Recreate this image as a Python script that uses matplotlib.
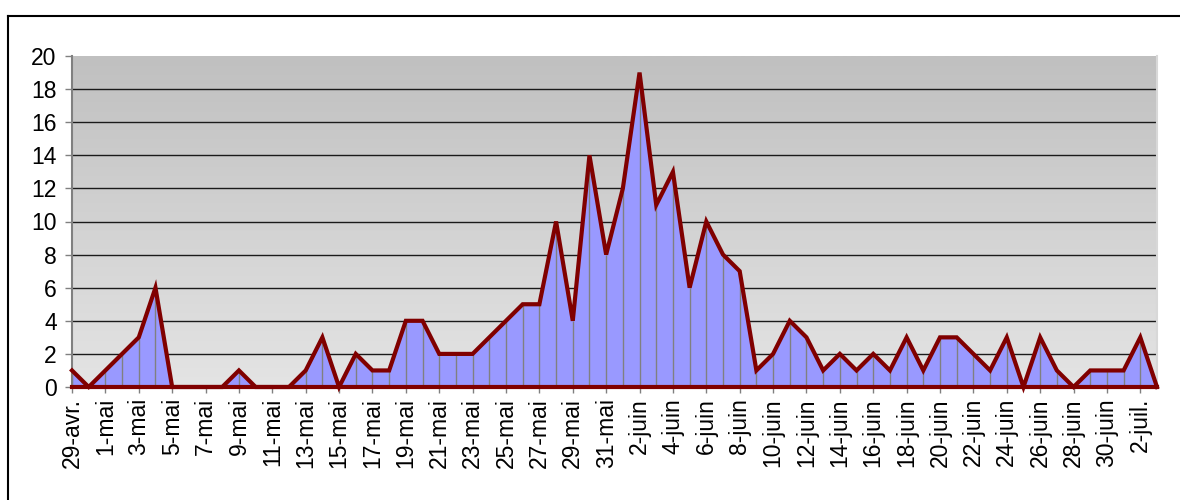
import numpy as np
import matplotlib.pyplot as plt
from matplotlib.colors import LinearSegmentedColormap
from matplotlib.lines import Line2D

plt.rcParams['font.family'] = ['Liberation Sans', 'DejaVu Sans']

# daily counts, 29-avr. -> 3-juil.
cases = [1, 0,
         1, 2, 3, 6, 0, 0, 0, 0, 1, 0, 0, 0, 1, 3, 0, 2, 1, 1, 4, 4,
         2, 2, 2, 3, 4, 5, 5, 10, 4, 14, 8,
         12, 19, 11, 13, 6, 10, 8, 7, 1, 2, 4, 3, 1, 2, 1, 2, 1, 3, 1,
         3, 3, 2, 1, 3, 0, 3, 1, 0, 1, 1,
         1, 3, 0]

tick_labels = ["29-avr.", "1-mai", "3-mai", "5-mai", "7-mai", "9-mai", "11-mai",
               "13-mai", "15-mai", "17-mai", "19-mai", "21-mai", "23-mai", "25-mai",
               "27-mai", "29-mai", "31-mai", "2-juin", "4-juin", "6-juin", "8-juin",
               "10-juin", "12-juin", "14-juin", "16-juin", "18-juin", "20-juin",
               "22-juin", "24-juin", "26-juin", "28-juin", "30-juin", "2-juil."]

x = np.arange(len(cases))
W, H = 1180, 500

fig = plt.figure(figsize=(W / 100, H / 100), dpi=100)
ax = fig.add_axes([72 / W, 113 / H, 1085 / W, 331 / H])

# grey gradient background
bg = LinearSegmentedColormap.from_list('bg', ['#c0c0c0', '#e4e4e4'])
ax.imshow(np.linspace(0, 1, 256).reshape(-1, 1), cmap=bg, aspect='auto',
          extent=[0, len(cases) - 1, 0, 20], zorder=0)
ax.hlines(range(2, 20, 2), 0, len(cases) - 1, color='#1a1a1a', lw=1, zorder=1)

ax.fill_between(x, cases, color='#9999ff', lw=0, zorder=2)
ax.vlines(x, 0, cases, color='#808080', lw=1, zorder=3)
ax.plot(x, cases, color='#800000', lw=3, zorder=4, clip_on=False,
        solid_joinstyle='miter')
ax.axhline(0, color='#800000', lw=3, zorder=4, clip_on=False)

ax.set_xlim(0, len(cases) - 1)
ax.set_ylim(0, 20)
ax.set_yticks(range(0, 21, 2))
ax.set_xticks(x[::2])
ax.set_xticklabels(tick_labels, rotation=90)
ax.tick_params(axis='x', length=4, color='#808080', width=1, pad=4, labelsize=16.5)
ax.tick_params(axis='y', length=5, color='#808080', width=1, pad=6, labelsize=16.5)

for s in ['top', 'bottom']:
    ax.spines[s].set_visible(False)
ax.spines['left'].set_color('#808080')
ax.spines['left'].set_linewidth(1.5)
ax.spines['right'].set_color('#d8d8d8')
ax.spines['right'].set_linewidth(1.5)

# outer chart frame (only top and left edges are visible)
fig.add_artist(Line2D([8 / W, 1], [1 - 16 / H] * 2, color='black', lw=1.5))
fig.add_artist(Line2D([8 / W] * 2, [0, 1 - 16 / H], color='black', lw=1.5))

fig.savefig('out.png', dpi=100)
